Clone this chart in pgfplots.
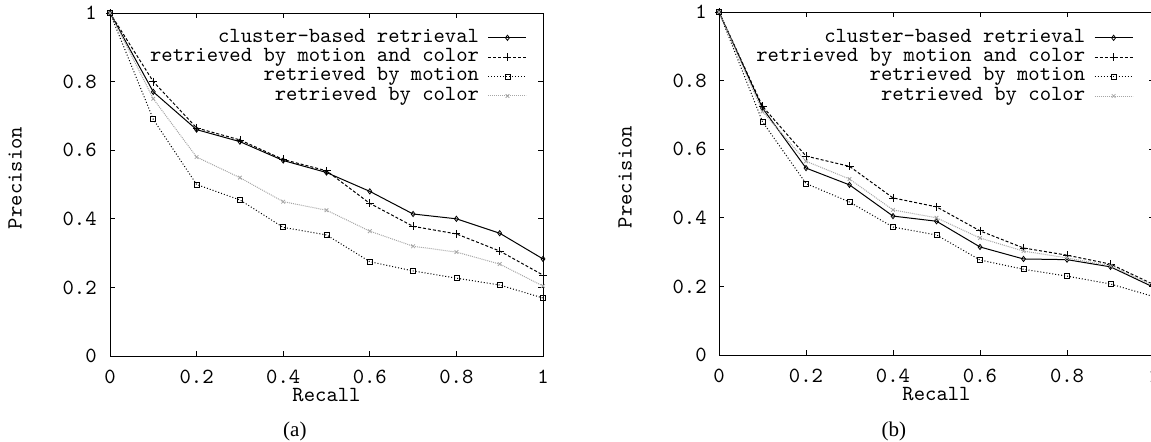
\documentclass[border=0pt]{standalone}
\usepackage{pgfplots}
\pgfplotsset{compat=1.18}
\usepackage{fontspec}
\newfontfamily\capfont{Liberation Serif}
\newcommand{\fs}{\ttfamily\fontsize{10.8bp}{12bp}\selectfont}
\pgfplotsset{
  prstyle/.style={
    scale only axis,
    height=171.5bp,
    xmin=0, xmax=1, ymin=0, ymax=1,
    xtick={0,0.2,0.4,0.6,0.8,1},
    xticklabels={0,0.2,0.4,0.6,0.8,1},
    ytick={0,0.2,0.4,0.6,0.8,1},
    yticklabels={0,0.2,0.4,0.6,0.8,1},
    tick align=inside,
    major tick length=2.5bp,
    axis line style={line width=0.5bp},
    every tick/.style={black, line width=0.5bp},
    tick label style={font=\fs},
    label style={font=\fs},
    xticklabel style={anchor=center, inner sep=0pt, yshift=-10.5bp},
    xlabel style={at={(axis description cs:0.5,0)}, anchor=center, yshift=-19.5bp},
    xlabel={Recall},
    ylabel={Precision},
    clip=false,
    legend plot pos=right,
    legend cell align=right,
    legend style={draw=none, fill=none, font=\fs, inner sep=0pt, outer sep=0pt,
      row sep=0pt, column sep=4.5bp,
      nodes={inner sep=0pt, outer sep=0pt, text height=7bp, text depth=2.7bp},
      anchor=north east},
    legend image code/.code={\draw[mark repeat=2, mark phase=2, #1] plot coordinates {(0bp,0bp) (9.5bp,0bp) (19bp,0bp)};},
    cluster/.style={black, line width=0.5bp, solid, mark=diamond, mark size=1.3bp, mark options={solid, line width=0.4bp}},
    mc/.style={black, line width=0.5bp, dash pattern=on 1.5bp off 1bp, mark=+, mark size=2bp, mark options={solid, line width=0.4bp}},
    mot/.style={black, line width=0.5bp, dash pattern=on 0.5bp off 1bp, mark=square, mark size=1.25bp, mark options={solid, line width=0.4bp}},
    col/.style={gray!70, line width=0.5bp, dash pattern=on 0.5bp off 0.5bp, mark=x, mark size=1.3bp, mark options={solid, line width=0.4bp}},
  }
}
\begin{document}
\begin{tikzpicture}
\begin{axis}[prstyle, width=216.5bp, at={(55bp,-178bp)}, anchor=south west,
  yticklabel style={anchor=east, inner sep=0pt, xshift=-6.5bp},
  ylabel style={at={(axis description cs:-0.219,0.519)}, anchor=center},
  legend style={at={(axis description cs:0.963,0.956)}}]
\addplot[cluster] coordinates {(0,1)(0.1,0.77)(0.2,0.66)(0.3,0.625)(0.4,0.57)(0.5,0.535)(0.6,0.48)(0.7,0.414)(0.8,0.40)(0.9,0.358)(1,0.283)};
\addlegendentry{cluster-based retrieval}
\addplot[mc] coordinates {(0,1)(0.1,0.80)(0.2,0.665)(0.3,0.63)(0.4,0.573)(0.5,0.54)(0.6,0.445)(0.7,0.378)(0.8,0.356)(0.9,0.306)(1,0.236)};
\addlegendentry{retrieved by motion and color}
\addplot[mot] coordinates {(0,1)(0.1,0.69)(0.2,0.50)(0.3,0.455)(0.4,0.375)(0.5,0.353)(0.6,0.275)(0.7,0.248)(0.8,0.227)(0.9,0.207)(1,0.169)};
\addlegendentry{retrieved by motion}
\addplot[col] coordinates {(0,1)(0.1,0.75)(0.2,0.58)(0.3,0.52)(0.4,0.45)(0.5,0.425)(0.6,0.364)(0.7,0.32)(0.8,0.303)(0.9,0.268)(1,0.204)};
\addlegendentry{retrieved by color}
\node[font=\capfont\fontsize{10.5bp}{12bp}\selectfont, anchor=center] at (axis description cs:0.427,-0.219) {(a)};
\end{axis}
\begin{axis}[prstyle, width=217.5bp, at={(359.5bp,-177.5bp)}, anchor=south west,
  yticklabel style={anchor=east, inner sep=0pt, xshift=-6bp},
  ylabel style={at={(axis description cs:-0.216,0.519)}, anchor=center},
  legend style={at={(axis description cs:0.952,0.953)}}]
\addplot[cluster] coordinates {(0,1)(0.1,0.72)(0.2,0.545)(0.3,0.496)(0.4,0.405)(0.5,0.39)(0.6,0.315)(0.7,0.28)(0.8,0.278)(0.9,0.257)(1,0.197)};
\addlegendentry{cluster-based retrieval}
\addplot[mc] coordinates {(0,1)(0.1,0.725)(0.2,0.58)(0.3,0.55)(0.4,0.458)(0.5,0.432)(0.6,0.362)(0.7,0.312)(0.8,0.291)(0.9,0.265)(1,0.205)};
\addlegendentry{retrieved by motion and color}
\addplot[mot] coordinates {(0,1)(0.1,0.68)(0.2,0.50)(0.3,0.446)(0.4,0.373)(0.5,0.35)(0.6,0.277)(0.7,0.25)(0.8,0.23)(0.9,0.207)(1,0.17)};
\addlegendentry{retrieved by motion}
\addplot[col] coordinates {(0,1)(0.1,0.71)(0.2,0.565)(0.3,0.513)(0.4,0.423)(0.5,0.40)(0.6,0.341)(0.7,0.303)(0.8,0.283)(0.9,0.26)(1,0.203)};
\addlegendentry{retrieved by color}
\node[font=\capfont\fontsize{10.5bp}{12bp}\selectfont, anchor=center] at (axis description cs:0.402,-0.222) {(b)};
\end{axis}
\pgfresetboundingbox
\path[use as bounding box] (0,0) rectangle (575.5bp,-221bp);
\end{tikzpicture}
\end{document}
